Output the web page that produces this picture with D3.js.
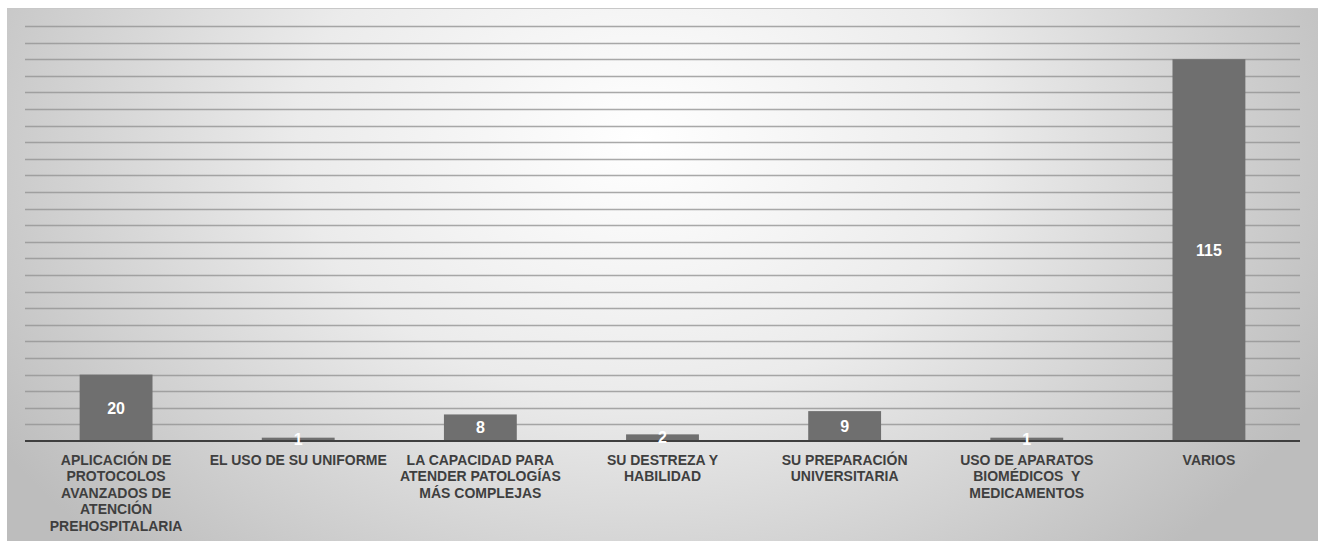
<!DOCTYPE html>
<html><head><meta charset="utf-8">
<script src="https://cdn.jsdelivr.net/npm/d3@7"></script>
<style>html,body{margin:0;padding:0;background:#fff;}svg{display:block;}</style>
</head><body>
<script>
const categories = [
  ["APLICACIÓN DE","PROTOCOLOS","AVANZADOS DE","ATENCIÓN","PREHOSPITALARIA"],
  ["EL USO DE SU UNIFORME"],
  ["LA CAPACIDAD PARA","ATENDER PATOLOGÍAS","MÁS COMPLEJAS"],
  ["SU DESTREZA Y","HABILIDAD"],
  ["SU PREPARACIÓN","UNIVERSITARIA"],
  ["USO DE APARATOS","BIOMÉDICOS  Y","MEDICAMENTOS"],
  ["VARIOS"]
];
const values = [20, 1, 8, 2, 9, 1, 115];
const gridTicks = d3.range(5, 126, 5);

const W = 1320, H = 541;
const svg = d3.select("body").append("svg").attr("width", W).attr("height", H);
const defs = svg.append("defs");
const grad = defs.append("radialGradient").attr("id","bg")
  .attr("gradientUnits","userSpaceOnUse").attr("cx",640).attr("cy",140).attr("r",760)
  .attr("gradientTransform","translate(640,140) scale(1,0.75) translate(-640,-140)");
grad.append("stop").attr("offset","0%").attr("stop-color","#ffffff");
grad.append("stop").attr("offset","45%").attr("stop-color","#ebebeb");
grad.append("stop").attr("offset","100%").attr("stop-color","#bdbdbd");

svg.append("rect").attr("x",7).attr("y",8).attr("width",1311).attr("height",533)
  .attr("fill","url(#bg)");
svg.append("line").attr("x1",7).attr("x2",1318).attr("y1",8.5).attr("y2",8.5)
  .attr("stroke","#c8c8c8").attr("stroke-width",1);

const x0 = 25, x1 = 1300, yBase = 441, yTop = 26;
const x = d3.scaleBand().domain(d3.range(categories.length)).range([x0, x1])
  .paddingInner(0.6).paddingOuter(0.3);
const y = d3.scaleLinear().domain([0, 125]).range([yBase, yTop]);

// gridlines
svg.append("g").selectAll("line").data(gridTicks).join("line")
  .attr("x1", x0).attr("x2", x1)
  .attr("y1", d => Math.round(y(d)) + 0.5).attr("y2", d => Math.round(y(d)) + 0.5)
  .attr("stroke", "#939393").attr("stroke-opacity", 0.8).attr("stroke-width", 1.3);

// bars
svg.append("g").selectAll("rect").data(values).join("rect")
  .attr("x", (d,i) => x(i)).attr("width", x.bandwidth())
  .attr("y", d => y(d)).attr("height", d => yBase - y(d))
  .attr("fill", "#6f6f6f");

// baseline
svg.append("line").attr("x1", x0).attr("x2", x1).attr("y1", yBase).attr("y2", yBase)
  .attr("stroke", "#3f3f3f").attr("stroke-width", 2);

// value labels
svg.append("g").selectAll("text").data(values).join("text")
  .attr("x", (d,i) => x(i) + x.bandwidth()/2)
  .attr("y", d => (y(d) + yBase)/2)
  .attr("dy", "0.36em")
  .attr("text-anchor", "middle")
  .attr("font-family", "Liberation Sans, Arial, sans-serif")
  .attr("font-weight", "bold").attr("font-size", "16px")
  .attr("fill", "#ffffff")
  .text(d => d);

// category labels
const lab = svg.append("g").selectAll("text").data(categories).join("text")
  .attr("x", (d,i) => x(i) + x.bandwidth()/2)
  .attr("y", 464.5)
  .attr("text-anchor", "middle")
  .attr("font-family", "Liberation Sans, Arial, sans-serif")
  .attr("font-weight", "bold").attr("font-size", "14px")
  .attr("fill", "#3f3f3f");
lab.selectAll("tspan").data(d => d).join("tspan")
  .attr("x", function(){ return d3.select(this.parentNode).attr("x"); })
  .attr("dy", (d,i) => i === 0 ? 0 : 16.6)
  .style("white-space","pre")
  .text(d => d);
</script>
</body></html>
